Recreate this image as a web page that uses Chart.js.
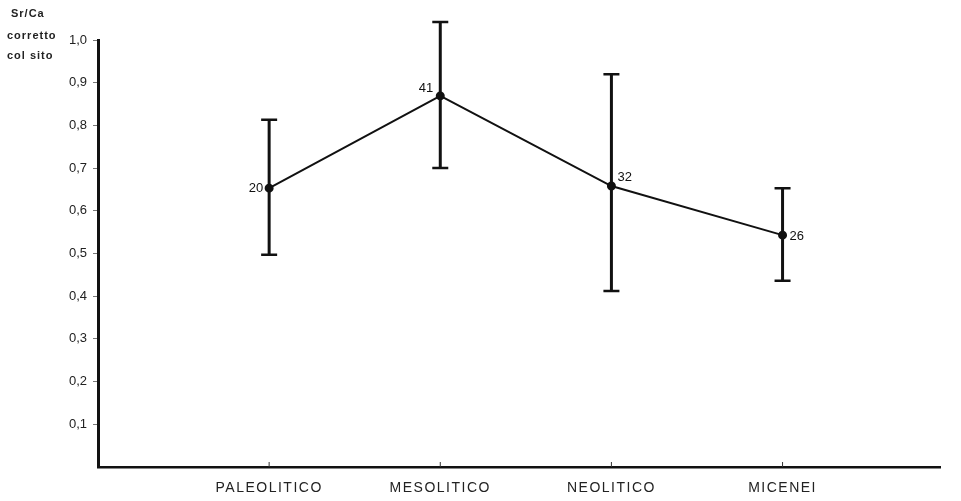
<!DOCTYPE html>
<html>
<head>
<meta charset="utf-8">
<script src="https://cdn.jsdelivr.net/npm/chart.js@4/dist/chart.umd.min.js"></script>
<style>
  html, body { margin: 0; padding: 0; background: #fff; }
  #wrap { width: 961px; height: 501px; position: relative; }
</style>
</head>
<body>
<div id="wrap"><canvas id="c" width="961" height="501"></canvas></div>
<script>
// Sr/Ca ratio (site-corrected) by period: mean with range and sample count
const periods = ['PALEOLITICO', 'MESOLITICO', 'NEOLITICO', 'MICENEI'];
const means   = [0.653, 0.869, 0.658, 0.543];
const highs   = [0.813, 1.042, 0.920, 0.653];
const lows    = [0.497, 0.700, 0.412, 0.436];
const counts  = ['20', '41', '32', '26'];
const yTicks  = [0.1, 0.2, 0.3, 0.4, 0.5, 0.6, 0.7, 0.8, 0.9, 1.0];

const points = means.map((v, i) => ({ x: i + 1, y: v }));
const INK = '#111';
const FONT = '"Liberation Sans", Arial, sans-serif';

// where each count label sits relative to its point
const labelPlace = [
  { dx: -6, dy: 0,  align: 'right' },
  { dx: -7, dy: -8, align: 'right' },
  { dx: 6,  dy: -9, align: 'left'  },
  { dx: 7,  dy: 1,  align: 'left'  }
];

const errorBars = {
  id: 'errorBars',
  afterDatasetsDraw(chart) {
    const { ctx, scales: { x, y } } = chart;
    ctx.save();
    ctx.strokeStyle = INK;
    ctx.lineCap = 'butt';
    periods.forEach((p, i) => {
      const px = x.getPixelForValue(i + 1);
      const top = y.getPixelForValue(highs[i]);
      const bot = y.getPixelForValue(lows[i]);
      ctx.lineWidth = 3;
      ctx.beginPath();
      ctx.moveTo(px, top); ctx.lineTo(px, bot);
      ctx.stroke();
      ctx.lineWidth = 2.5;
      ctx.beginPath();
      ctx.moveTo(px - 8, top); ctx.lineTo(px + 8, top);
      ctx.moveTo(px - 8, bot); ctx.lineTo(px + 8, bot);
      ctx.stroke();
    });
    // count labels
    ctx.fillStyle = INK;
    ctx.font = '13px ' + FONT;
    ctx.textBaseline = 'middle';
    counts.forEach((c, i) => {
      const px = x.getPixelForValue(i + 1);
      const py = y.getPixelForValue(means[i]);
      const l = labelPlace[i];
      ctx.textAlign = l.align;
      ctx.fillText(c, px + l.dx, py + l.dy);
    });
    // small inward ticks on the category axis
    ctx.lineWidth = 1;
    ctx.strokeStyle = '#333';
    periods.forEach((p, i) => {
      const px = x.getPixelForValue(i + 1);
      ctx.beginPath();
      ctx.moveTo(px, y.bottom); ctx.lineTo(px, y.bottom - 5);
      ctx.stroke();
    });
    // category names, letter-spaced
    ctx.fillStyle = '#222';
    ctx.textAlign = 'center';
    ctx.font = '14px ' + FONT;
    ctx.letterSpacing = '1.5px';
    periods.forEach((p, i) => {
      const px = x.getPixelForValue(i + 1);
      ctx.fillText(p, px, 488);
    });
    // axis title
    ctx.textAlign = 'left';
    ctx.font = 'bold 11px ' + FONT;
    ctx.letterSpacing = '1px';
    ctx.fillText('Sr/Ca', 11, 14);
    ctx.fillText('corretto', 7, 36);
    ctx.fillText('col sito', 7, 56);
    ctx.restore();
  }
};

new Chart(document.getElementById('c'), {
  type: 'line',
  data: {
    datasets: [{
      data: points,
      borderColor: INK,
      borderWidth: 2,
      pointRadius: 3.5,
      pointBackgroundColor: INK,
      pointBorderColor: INK,
      tension: 0,
      clip: false
    }]
  },
  options: {
    responsive: false,
    animation: false,
    layout: { padding: { top: 40, right: 21, left: 0, bottom: 0 } },
    plugins: { legend: { display: false }, tooltip: { enabled: false } },
    scales: {
      x: {
        type: 'linear',
        min: 0,
        max: 4.92,
        afterFit(s) { s.height = 34; },
        afterBuildTicks(s) { s.ticks = periods.map((p, i) => ({ value: i + 1 })); },
        ticks: { display: false },
        grid: { display: false },
        border: { display: true, color: INK, width: 2.5 }
      },
      y: {
        min: 0,
        max: 1.0,
        afterFit(s) { s.width = 98; },
        afterBuildTicks(s) { s.ticks = yTicks.map(v => ({ value: v })); },
        ticks: {
          callback: v => v.toFixed(1).replace('.', ','),
          color: '#222',
          font: { size: 13, family: FONT },
          padding: 6
        },
        grid: { display: true, drawOnChartArea: false, drawTicks: true, tickLength: 5, color: '#777' },
        border: { display: true, color: INK, width: 3 }
      }
    }
  },
  plugins: [errorBars]
});
</script>
</body>
</html>
